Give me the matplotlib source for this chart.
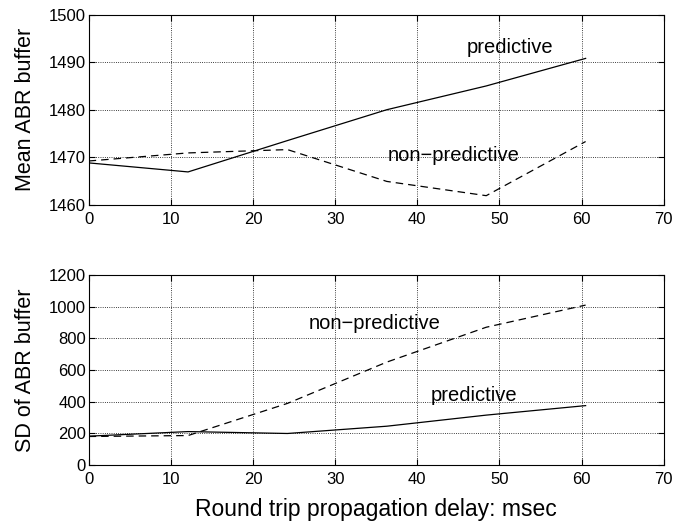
import matplotlib
matplotlib.use("Agg")
import matplotlib.pyplot as plt

plt.rcParams['font.family'] = ['Liberation Sans', 'DejaVu Sans']

delay = [0, 12.1, 24.2, 36.3, 48.4, 60.5]
mean_pred = [1468.8, 1466.9, 1473.5, 1480.0, 1485.0, 1490.8]
mean_nonpred = [1469.2, 1470.9, 1471.6, 1464.9, 1461.9, 1473.3]
sd_pred = [182, 211, 199, 245, 315, 375]
sd_nonpred = [180, 186, 389, 650, 870, 1010]

fig = plt.figure(figsize=(6.82, 5.25), dpi=100)
ax1 = fig.add_axes([0.130, 0.6101, 0.8431, 0.3619])
ax2 = fig.add_axes([0.130, 0.1143, 0.8431, 0.3619])

def style(ax):
    ax.grid(True, linestyle=':', color='black', linewidth=0.6)
    ax.tick_params(direction='in', top=True, right=True, labelsize=12, length=4)
    ax.tick_params(axis='y', pad=2)
    ax.tick_params(axis='x', pad=5)
    for s in ax.spines.values():
        s.set_linewidth(0.8)
    ax.set_xlim(0, 70)
    ax.set_xticks(range(0, 71, 10))

ax1.plot(delay, mean_pred, color='black', linewidth=0.9)
ax1.plot(delay, mean_nonpred, color='black', linewidth=0.9, linestyle=(0, (6, 4)))
ax1.set_ylim(1460, 1500)
ax1.set_yticks(range(1460, 1501, 10))
style(ax1)
ax1.set_ylabel('Mean ABR buffer', fontsize=15.5, labelpad=9)
ax1.text(46, 1493, 'predictive', fontsize=14.5, va='center')
ax1.text(36.4, 1470.4, 'non\u2212predictive', fontsize=14.5, va='center')

ax2.plot(delay, sd_pred, color='black', linewidth=0.9)
ax2.plot(delay, sd_nonpred, color='black', linewidth=0.9, linestyle=(0, (6, 4)))
ax2.set_ylim(0, 1200)
ax2.set_yticks(range(0, 1201, 200))
style(ax2)
ax2.set_ylabel('SD of ABR buffer', fontsize=15.5, labelpad=9)
ax2.set_xlabel('Round trip propagation delay: msec', fontsize=16.5, labelpad=8)
ax2.text(26.8, 895, 'non\u2212predictive', fontsize=14.5, va='center')
ax2.text(41.6, 438, 'predictive', fontsize=14.5, va='center')

fig.savefig('out.png', dpi=100)
